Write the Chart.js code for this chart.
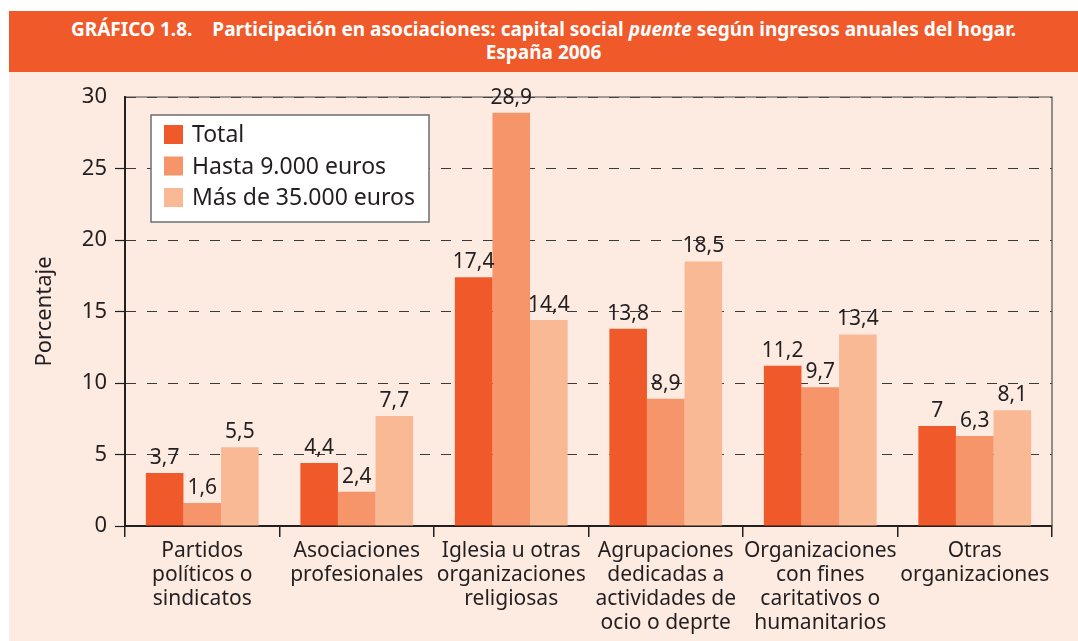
<!DOCTYPE html>
<html>
<head>
<meta charset="utf-8">
<script src="https://cdn.jsdelivr.net/npm/chart.js@4"></script>
<style>
  body { margin: 0; background: #fff; width: 1078px; height: 641px; overflow: hidden; position: relative; }
  #banner {
    position: absolute; left: 9px; top: 11px; width: 1069px; height: 61px;
    background: #f05a2b; color: #fff; text-align: center;
    font: bold 19px "Noto Sans", sans-serif; line-height: 23px; padding-top: 7px; box-sizing: border-box;
  }
  #banner .num { margin-right: 20px; }
  #panel { position: absolute; left: 9px; top: 72px; width: 1069px; height: 569px; background: #fdebe1; }
  canvas { display: block; }
</style>
</head>
<body>
<div id="banner">
  <span class="num">GRÁFICO 1.8.</span>Participación en asociaciones: capital social <i>puente</i> según ingresos anuales del hogar.<br>España 2006
</div>
<div id="panel"><canvas id="chart" width="1069" height="569"></canvas></div>
<script>
// categorías (etiquetas en varias líneas)
const categories = [
    ["Partidos", "políticos o", "sindicatos"],
    ["Asociaciones", "profesionales"],
    ["Iglesia u otras", "organizaciones", "religiosas"],
    ["Agrupaciones", "dedicadas a", "actividades de", "ocio o deprte"],
    ["Organizaciones", "con fines", "caritativos o", "humanitarios"],
    ["Otras", "organizaciones"]
];
const seriesNames = ["Total", "Hasta 9.000 euros", "Más de 35.000 euros"];
const totalValues = [3.7, 4.4, 17.4, 13.8, 11.2, 7];
const hastaValues = [1.6, 2.4, 28.9, 8.9, 9.7, 6.3];
const masValues = [5.5, 7.7, 14.4, 18.5, 13.4, 8.1];
const yTicks = [0, 5, 10, 15, 20, 25, 30];

const colors = ["#f05a2a", "#f6956a", "#f9b995"];
const ink = "#231f20";
const font = '"Noto Sans", sans-serif';

// marco superior y derecho del área del gráfico
const framePlugin = {
    id: 'frame',
    beforeDatasetsDraw(chart) {
        const { ctx, chartArea: a } = chart;
        ctx.save();
        ctx.setLineDash([]);
        ctx.strokeStyle = "#4d4d4f";
        ctx.lineWidth = 1.2;
        ctx.beginPath();
        ctx.moveTo(a.left, a.top);
        ctx.lineTo(a.right, a.top);
        ctx.lineTo(a.right, a.bottom);
        ctx.stroke();
        // eje vertical sólido (por si el trazo discontinuo lo afecta)
        ctx.strokeStyle = ink;
        ctx.lineWidth = 2;
        ctx.beginPath();
        ctx.moveTo(a.left, a.top);
        ctx.lineTo(a.left, a.bottom);
        ctx.stroke();
        ctx.restore();
    }
};

// valores encima de las barras, con coma decimal
const valueLabels = {
    id: 'valueLabels',
    afterDatasetsDraw(chart) {
        const ctx = chart.ctx;
        ctx.save();
        ctx.font = '21px ' + font;
        ctx.fillStyle = ink;
        ctx.textAlign = 'center';
        ctx.textBaseline = 'alphabetic';
        chart.data.datasets.forEach((ds, i) => {
            chart.getDatasetMeta(i).data.forEach((bar, j) => {
                const txt = String(ds.data[j]).replace('.', ',');
                ctx.fillText(txt, bar.x, bar.y - 9);
            });
        });
        ctx.restore();
    }
};

// leyenda dentro del área, con fondo blanco
const boxLegend = {
    id: 'boxLegend',
    afterDraw(chart) {
        const ctx = chart.ctx;
        const x = 142, y = 43, w = 278, h = 107;
        ctx.save();
        ctx.setLineDash([]);
        ctx.fillStyle = "#fff";
        ctx.fillRect(x, y, w, h);
        ctx.strokeStyle = "#6d6e71";
        ctx.lineWidth = 1.5;
        ctx.strokeRect(x, y, w, h);
        ctx.font = '23px ' + font;
        ctx.textBaseline = 'middle';
        chart.data.datasets.forEach((ds, i) => {
            const cy = 62.5 + i * 31.5;
            ctx.fillStyle = ds.backgroundColor;
            ctx.fillRect(155, cy - 9.5, 19, 19);
            ctx.fillStyle = ink;
            ctx.fillText(ds.label, 183, cy + 1);
        });
        ctx.restore();
    }
};

new Chart(document.getElementById('chart'), {
    type: 'bar',
    data: {
        labels: categories,
        datasets: [
            { label: seriesNames[0], data: totalValues, backgroundColor: colors[0] },
            { label: seriesNames[1], data: hastaValues, backgroundColor: colors[1] },
            { label: seriesNames[2], data: masValues, backgroundColor: colors[2] }
        ]
    },
    options: {
        responsive: false,
        animation: false,
        categoryPercentage: 0.73,
        barPercentage: 1.0,
        layout: { padding: { top: 25, right: 26, left: 0, bottom: 0 } },
        plugins: {
            legend: { display: false },
            tooltip: { enabled: false }
        },
        scales: {
            x: {
                afterFit: s => { s.height = 115; },
                border: { color: ink, width: 2 },
                grid: {
                    drawOnChartArea: false, offset: true,
                    tickLength: 11, color: ink, lineWidth: 1.5
                },
                ticks: {
                    autoSkip: false, maxRotation: 0, minRotation: 0, padding: 2,
                    color: ink, font: { family: font, size: 21, lineHeight: 1.14 }
                }
            },
            y: {
                min: 0, max: 30,
                afterFit: s => { s.width = 116; },
                afterBuildTicks: s => { s.ticks = yTicks.map(v => ({ value: v })); },
                border: { color: ink, width: 2, dash: [10, 11], dashOffset: 0 },
                grid: {
                    color: '#3a3a3a', lineWidth: 1,
                    tickLength: 10, tickBorderDash: [],
                    tickColor: c => (c.tick && c.tick.value === 30) ? 'rgba(0,0,0,0)' : ink,
                    tickWidth: 1.2
                },
                ticks: {
                    padding: 8, color: ink,
                    font: { family: font, size: 22 }
                },
                title: {
                    display: true, text: 'Porcentaje', color: ink,
                    font: { family: font, size: 22 },
                    padding: { top: 23, bottom: 0 }
                }
            }
        }
    },
    plugins: [framePlugin, valueLabels, boxLegend]
});
</script>
</body>
</html>
